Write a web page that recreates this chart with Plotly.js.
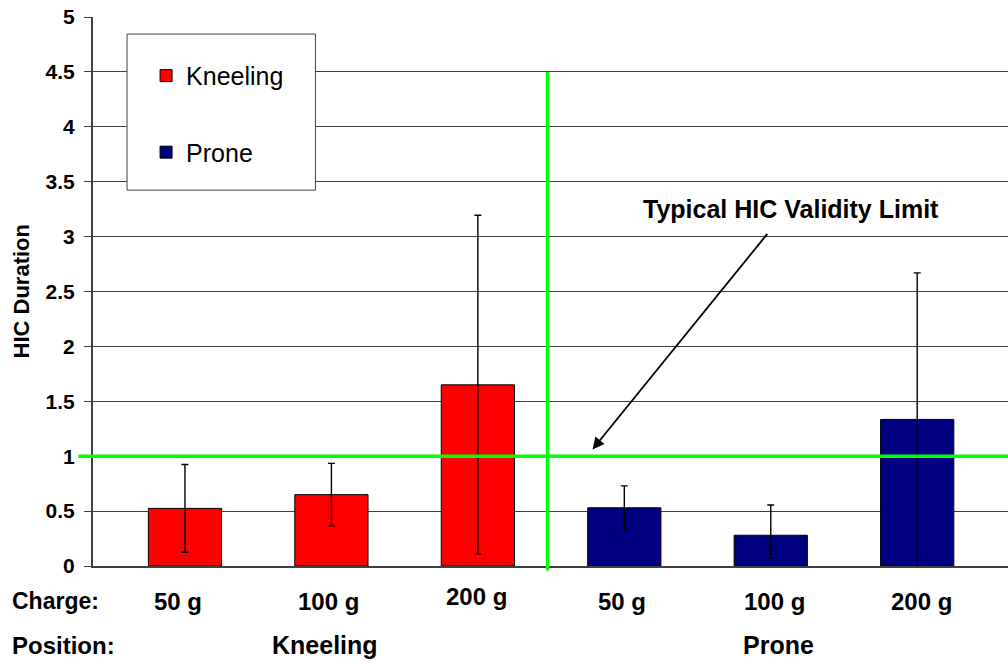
<!DOCTYPE html>
<html>
<head>
<meta charset="utf-8">
<script src="https://cdn.plot.ly/plotly-3.0.1.min.js"></script>
<style>
  html, body { margin: 0; padding: 0; background: #ffffff; }
  #chart { width: 1008px; height: 663px; }
</style>
</head>
<body>
<div id="chart"></div>
<script>
// ---- data ----
const charges = ['50 g', '100 g', '200 g'];
const positions = ['Kneeling', 'Prone'];
const kneelingX = [0, 1, 2];
const proneX = [3, 4, 5];
const kneeling = [0.525, 0.65, 1.65];
const kneelingErrPlus = [0.40, 0.285, 1.545];
const kneelingErrMinus = [0.40, 0.285, 1.54];
const prone = [0.53, 0.28, 1.335];
const proneErrPlus = [0.20, 0.275, 1.335];
const proneErrMinus = [0.20, 0.205, 1.335];
const validityLimit = 1;
const dividerX = 2.476;
const dividerTop = 4.5;
const yTicks = [0, 0.5, 1, 1.5, 2, 2.5, 3, 3.5, 4, 4.5, 5];

const FONT = '"Liberation Sans", Arial, sans-serif';

const errStyle = { type: 'data', symmetric: false, color: '#000000', thickness: 1.4, width: 3.5, visible: true };

const traces = [
  {
    type: 'bar', name: positions[0], x: kneelingX, y: kneeling, width: 0.5,
    legendgroup: 'k',
    marker: { color: '#FF0000', line: { color: '#000000', width: 1 } },
    error_y: Object.assign({}, errStyle, { array: kneelingErrPlus, arrayminus: kneelingErrMinus })
  },
  {
    type: 'bar', name: positions[1], x: proneX, y: prone, width: 0.5,
    legendgroup: 'p',
    marker: { color: '#000080', line: { color: '#000000', width: 1 } },
    error_y: Object.assign({}, errStyle, { array: proneErrPlus, arrayminus: proneErrMinus })
  }
];

// small horizontal nudges of the category labels as placed in the reference
const labelShift = [-7, -3, -1, -2, 4, 4];
const labelRaise = [0, 0, 5, 0, 0, 0];

const annotations = [];
// category (charge) labels
kneelingX.concat(proneX).forEach(function (xv, i) {
  annotations.push({
    x: xv, xref: 'x', y: 0, yref: 'paper', yanchor: 'middle', xanchor: 'center',
    xshift: labelShift[i], yshift: -35 + labelRaise[i], showarrow: false,
    text: '<b>' + charges[i % 3] + '</b>',
    font: { family: FONT, size: 24, color: '#000000' }
  });
});
// position labels
annotations.push({
  x: kneelingX[1], xref: 'x', xshift: -6, y: 0, yref: 'paper', yanchor: 'middle', yshift: -79,
  showarrow: false, text: '<b>' + positions[0] + '</b>', font: { family: FONT, size: 25, color: '#000000' }
});
annotations.push({
  x: proneX[1], xref: 'x', xshift: 8, y: 0, yref: 'paper', yanchor: 'middle', yshift: -79,
  showarrow: false, text: '<b>' + positions[1] + '</b>', font: { family: FONT, size: 25, color: '#000000' }
});
annotations.push({
  x: -0.0907, xref: 'paper', xanchor: 'left', y: 0, yref: 'paper', yanchor: 'middle', yshift: -35,
  showarrow: false, text: '<b>Charge:</b>', font: { family: FONT, size: 23, color: '#000000' }
});
annotations.push({
  x: -0.0907, xref: 'paper', xanchor: 'left', y: 0, yref: 'paper', yanchor: 'middle', yshift: -79,
  showarrow: false, text: '<b>Position:</b>', font: { family: FONT, size: 24, color: '#000000' }
});
// y-axis title
annotations.push({
  x: -0.0776, xref: 'paper', xanchor: 'center', y: 0.5, yref: 'paper', yanchor: 'middle',
  textangle: -90, showarrow: false, text: '<b>HIC Duration</b>',
  font: { family: FONT, size: 22, color: '#000000' }
});
// validity limit callout
annotations.push({
  x: 4.141, xref: 'x', y: 3.247, yref: 'y', xanchor: 'center', yanchor: 'middle',
  showarrow: false, text: '<b>Typical HIC Validity Limit</b>',
  font: { family: FONT, size: 25, color: '#000000' }
});
annotations.push({
  x: 2.783, xref: 'x', y: 1.062, yref: 'y', text: '', showarrow: true,
  ax: 176, ay: -217, arrowhead: 2, arrowsize: 1.3, arrowwidth: 1.8, arrowcolor: '#000000'
});

const shapes = [
  // legend box
  { type: 'rect', xref: 'paper', yref: 'paper', x0: 0.0372, x1: 0.2431, y0: 0.6846, y1: 0.969,
    fillcolor: '#ffffff', line: { color: '#404040', width: 1 }, layer: 'above' },
  // validity limit line
  { type: 'line', xref: 'paper', yref: 'y', x0: -0.016, x1: 1, y0: validityLimit, y1: validityLimit,
    line: { color: '#00FF00', width: 3.5 }, layer: 'above' },
  // divider between positions
  { type: 'line', xref: 'x', yref: 'paper', x0: dividerX, x1: dividerX, y0: -0.008, y1: dividerTop / 5,
    line: { color: '#00FF00', width: 3.5 }, layer: 'above' }
];

const layout = {
  width: 1008, height: 663,
  margin: { l: 93, r: 0, t: 17, b: 97, pad: 0 },
  paper_bgcolor: '#ffffff', plot_bgcolor: '#ffffff',
  font: { family: FONT, color: '#000000' },
  barmode: 'overlay',
  showlegend: true,
  legend: {
    x: 0.058, y: 0.9346, xanchor: 'left', yanchor: 'top',
    bgcolor: 'rgba(0,0,0,0)', borderwidth: 0,
    traceorder: 'grouped', tracegroupgap: 41,
    font: { family: FONT, size: 25, color: '#000000' }
  },
  xaxis: {
    range: [-0.628, 5.62], showgrid: false, zeroline: false,
    showticklabels: false, ticks: '',
    showline: true, linecolor: '#404040', linewidth: 1.5, fixedrange: true
  },
  yaxis: {
    range: [0, 5], tickvals: yTicks, ticktext: yTicks.map(function (v) { return '<b>' + v + '</b>'; }),
    showgrid: true, gridcolor: '#404040', gridwidth: 1, zeroline: false,
    showline: true, linecolor: '#404040', linewidth: 2,
    ticks: 'outside', ticklen: 7, tickcolor: '#404040', tickwidth: 1,
    ticklabelstandoff: 5,
    tickfont: { family: FONT, size: 21, color: '#000000' },
    fixedrange: true
  },
  annotations: annotations,
  shapes: shapes
};

Plotly.newPlot('chart', traces, layout, { displayModeBar: false, staticPlot: true });
</script>
</body>
</html>
